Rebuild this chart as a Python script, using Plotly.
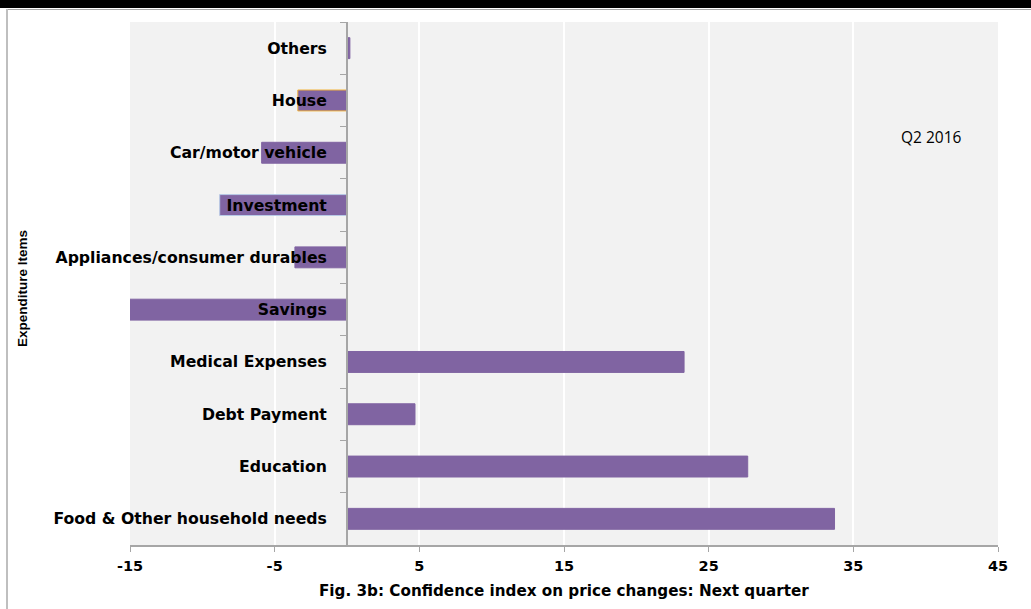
import plotly.graph_objects as go

# Data (bottom to top)
categories = ["Food & Other household needs", "Education", "Debt Payment",
              "Medical Expenses", "Savings", "Appliances/consumer durables",
              "Investment", "Car/motor vehicle", "House", "Others"]
values = [33.7, 27.7, 4.7, 23.3, -15.1, -3.6, -8.8, -5.9, -3.4, 0.2]
xtick_vals = [-15, -5, 5, 15, 25, 35, 45]
xtick_labels = ["-15", "-5", "5", "15", "25", "35", "45"]

W, H = 1031, 609
L, R, T, B = 130, 33, 22, 64
PW, PH = W - L - R, H - T - B

def px2x(px):
    return (px - L) / PW

def py2y(py):
    return (H - B - py) / PH

bar_color = "#8064A2"
edge_colors = [bar_color] * len(categories)
edge_colors[categories.index("House")] = "#F2B43C"
edge_colors[categories.index("Investment")] = "#B7C9E6"

FONT = "DejaVu Sans, Verdana, sans-serif"
label_font = dict(family=FONT, size=15.7, color="black", weight="bold")

fig = go.Figure()
fig.add_trace(go.Bar(
    y=categories, x=values, orientation="h",
    marker=dict(color=bar_color, line=dict(color=edge_colors, width=1)),
    width=0.4,
))

fig.update_layout(
    width=W, height=H,
    margin=dict(l=L, r=R, t=T, b=B, autoexpand=False),
    paper_bgcolor="white",
    plot_bgcolor="#F2F2F2",
    showlegend=False,
    xaxis=dict(
        range=[-15, 45],
        tickmode="array", tickvals=xtick_vals, ticktext=xtick_labels,
        showgrid=True, gridcolor="white", gridwidth=2,
        zeroline=False,
        showline=True, linecolor="#A6A6A6", linewidth=2,
        ticks="outside", ticklen=5, tickcolor="#A6A6A6", tickwidth=1,
        tickfont=dict(family=FONT, size=14.5, color="black", weight="bold"),
        ticklabelstandoff=2,
    ),
    yaxis=dict(
        type="category",
        categoryorder="array", categoryarray=categories,
        anchor="free", position=px2x(347),
        showline=True, linecolor="#A6A6A6", linewidth=2,
        ticks="outside", ticklen=6, tickcolor="#A6A6A6", tickwidth=1,
        tickson="boundaries",
        showgrid=False, zeroline=False,
        tickfont=label_font,
        ticklabelstandoff=16,
        layer="above traces",
    ),
    annotations=[
        dict(text="<b>Expenditure Items</b>", x=px2x(22), y=py2y(289),
             xref="paper", yref="paper", textangle=-90, showarrow=False,
             xanchor="center", yanchor="middle",
             font=dict(family="Liberation Sans Narrow, Arial Narrow, sans-serif", size=13.5, color="black")),
        dict(text="<b>Fig. 3b: Confidence index on price changes: Next quarter</b>",
             x=px2x(564), y=py2y(591), xref="paper", yref="paper", showarrow=False,
             xanchor="center", yanchor="middle",
             font=dict(family=FONT, size=15.2, color="black")),
        dict(text="Q2 2016", x=px2x(931), y=py2y(137), xref="paper", yref="paper",
             showarrow=False, xanchor="center", yanchor="middle",
             font=dict(family="Open Sans, sans-serif", size=15.5, color="black")),
    ],
    shapes=[
        dict(type="rect", xref="paper", yref="paper",
             x0=px2x(0), x1=px2x(W), y0=py2y(8), y1=py2y(0),
             fillcolor="black", line=dict(width=0), layer="above"),
        dict(type="line", xref="paper", yref="paper",
             x0=px2x(7), x1=px2x(W), y0=py2y(9.5), y1=py2y(9.5),
             line=dict(color="#A6A6A6", width=1), layer="above"),
        dict(type="line", xref="paper", yref="paper",
             x0=px2x(7), x1=px2x(7), y0=py2y(9), y1=py2y(H),
             line=dict(color="#BFBFBF", width=2), layer="above"),
    ],
)

fig.write_html("out.html", config={"displayModeBar": False},
               post_script="document.body.style.margin='0';document.body.style.overflow='hidden';")
